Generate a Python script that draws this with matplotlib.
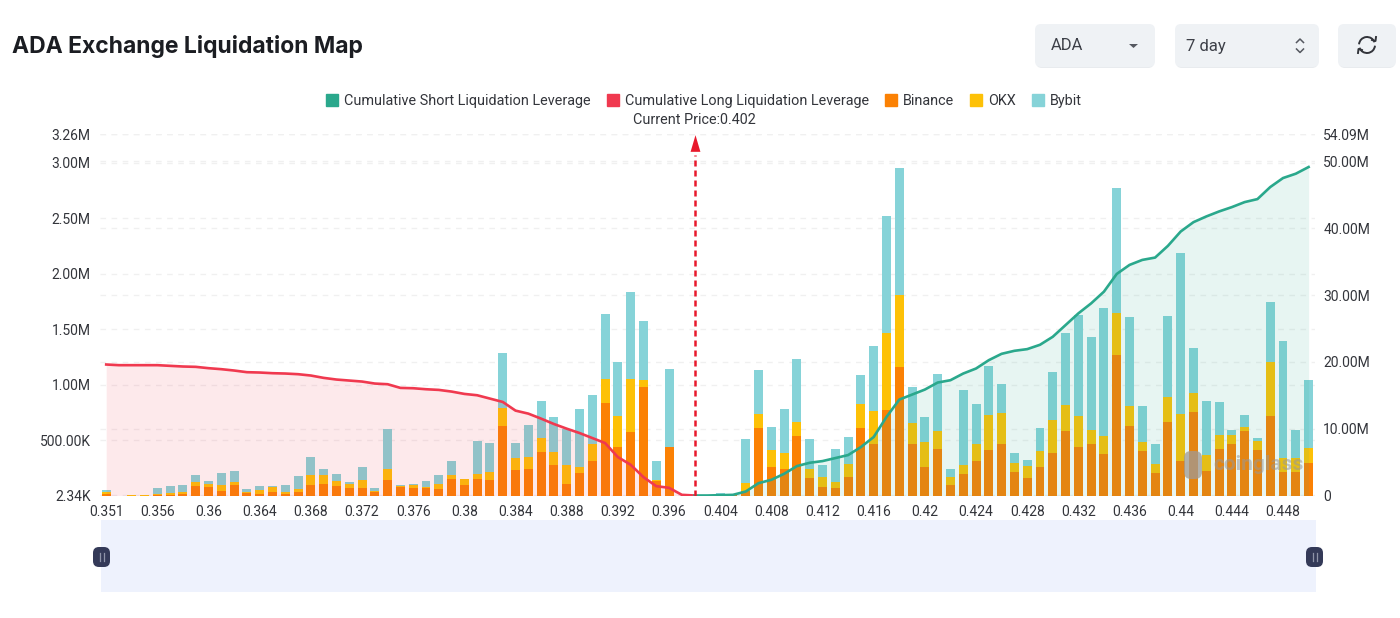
import matplotlib
matplotlib.use('Agg')
import matplotlib.pyplot as plt
from matplotlib.patches import FancyBboxPatch, Rectangle, Arc, Polygon

plt.rcParams['font.family'] = ['Roboto', 'DejaVu Sans']

# liquidation per price bucket, thousands
binance = [18, 0, 0, 0, 6, 9, 12, 84, 78, 45, 96, 24, 12, 36, 12, 36, 93, 102, 87, 69, 69, 33, 141,
           75, 72, 69, 63, 147, 96, 147, 138, 630, 231, 240, 396, 279, 102, 204, 309, 831, 441, 570, 978, 132, 441,
           0, 0, 0, 6, 3, 39, 612, 255, 237, 540, 156, 75, 66, 171, 612, 462, 768, 1158, 462, 255, 420, 93, 195, 315,
           411, 462, 213, 162, 255, 384, 579, 435, 465, 372, 1269, 630, 405, 207, 663, 309, 750, 219, 423, 462, 582,
           414, 720, 216, 213, 297]
okx = [15, 0, 5, 7, 12, 15, 18, 39, 24, 54, 27, 9, 36, 39, 18, 27, 96, 84, 48, 33, 75, 6, 99,
       15, 27, 9, 42, 42, 51, 45, 72, 159, 111, 105, 126, 111, 177, 57, 156, 222, 279, 483, 63, 12, 0,
       0, 0, 0, 6, 0, 72, 120, 153, 150, 123, 81, 90, 60, 114, 213, 303, 696, 651, 195, 225, 165, 72, 84, 150,
       315, 282, 78, 102, 144, 300, 237, 279, 126, 162, 378, 180, 75, 75, 228, 426, 177, 150, 126, 87, 33,
       81, 483, 120, 123, 129]
bybit = [15, 0, 0, 0, 54, 60, 63, 60, 27, 105, 102, 27, 36, 15, 69, 111, 156, 57, 63, 21, 111, 27, 357,
         3, 3, 51, 84, 126, 6, 303, 264, 495, 129, 291, 333, 315, 318, 516, 444, 582, 483, 786, 534, 171, 699,
         0, 0, 0, 12, 0, 402, 396, 213, 393, 564, 270, 108, 297, 243, 264, 579, 1059, 1140, 324, 231, 510, 75, 669,
         360, 438, 261, 90, 60, 207, 429, 651, 918, 837, 1161, 1122, 804, 330, 180, 732, 1452, 405, 486, 291, 39,
         111, 27, 543, 1056, 252, 618]

# cumulative leverage, millions
cum_long = [19.6, 19.5, 19.5, 19.5, 19.5, 19.4, 19.3, 19.25, 19.05, 18.9, 18.7, 18.45, 18.4, 18.3, 18.25, 18.15,
            17.95, 17.6, 17.35, 17.2, 17.05, 16.75, 16.65, 16.1, 16.05, 15.9, 15.8, 15.55, 15.2, 15.0, 14.5, 14.0,
            12.7, 12.25, 11.5, 10.7, 10.0, 9.35, 8.6, 7.85, 5.75, 4.6, 2.75, 1.4, 1.15, 0.1, 0]
cum_short = [0, 0, 0.05, 0.1, 0.6, 1.85, 2.35, 3.25, 4.4, 4.9, 5.15, 5.6, 6.05, 7.25, 8.75, 11.75, 14.35, 15.1,
             15.85, 16.9, 17.25, 18.25, 19.0, 20.25, 21.2, 21.65, 21.9, 22.55, 23.75, 25.5, 27.25, 28.75, 30.5,
             33.15, 34.5, 35.25, 35.6, 37.35, 39.5, 40.9, 41.75, 42.5, 43.15, 43.9, 44.35, 46.15, 47.5, 48.15, 49.15]

price_labels = ['0.351', '0.356', '0.36', '0.364', '0.368', '0.372', '0.376', '0.38', '0.384', '0.388', '0.392',
                '0.396', '0.404', '0.408', '0.412', '0.416', '0.42', '0.424', '0.428', '0.432', '0.436', '0.44',
                '0.444', '0.448']
left_ticks = [0.00234, 0.5, 1.0, 1.5, 2.0, 2.5, 3.0, 3.26]
left_labels = ['2.34K', '500.00K', '1.00M', '1.50M', '2.00M', '2.50M', '3.00M', '3.26M']
right_ticks = [0, 10, 20, 30, 40, 50, 54.09]
right_labels = ['0', '10.00M', '20.00M', '30.00M', '40.00M', '50.00M', '54.09M']

W, H = 1400, 618
ORANGE, YELLOW, TEAL = '#fb8104', '#fdc107', '#86d3d8'
RED, GREEN = '#f0394f', '#2aa88c'
TXT = '#33353b'

fig = plt.figure(figsize=(W / 100, H / 100), dpi=100)
rect = [99.8 / W, 1 - 495.5 / H, 1215.2 / W, 361.5 / H]

# right axis sits lowest so its grid stays behind the bars
ax_r = fig.add_axes(rect, zorder=1)
ax = fig.add_axes(rect, zorder=2)
ax_l = fig.add_axes(rect, zorder=3)
ax.patch.set_visible(False)
ax_l.patch.set_visible(False)
ax_l.axis('off')

x = list(range(len(binance)))
b_m = [v / 1000 for v in binance]
o_m = [v / 1000 for v in okx]
y_m = [v / 1000 for v in bybit]
bot2 = [a + b for a, b in zip(b_m, o_m)]
ax.bar(x, b_m, width=0.7, color=ORANGE)
ax.bar(x, o_m, width=0.7, bottom=b_m, color=YELLOW)
ax.bar(x, y_m, width=0.7, bottom=bot2, color=TEAL)

for a in (ax, ax_r, ax_l):
    a.set_xlim(-0.5, len(x) - 0.5)
    for s in a.spines.values():
        s.set_visible(False)
ax.set_ylim(0, 3.26)
ax_r.set_ylim(0, 54.09)
ax_l.set_ylim(0, 54.09)

ax.set_yticks(left_ticks, left_labels, fontsize=10, color=TXT)
ax.set_xticks(x[::4], price_labels, fontsize=10, color=TXT)
ax.tick_params(axis='both', length=0)
ax.tick_params(axis='y', pad=6.5)
ax.tick_params(axis='x', pad=7)
ax.grid(axis='y', color='#f0f0f0', lw=1, ls=(0, (4, 4)))
ax.set_axisbelow(True)

ax_r.yaxis.tick_right()
ax_r.set_yticks(right_ticks, right_labels, fontsize=10, color=TXT)
ax_r.set_xticks([])
ax_r.tick_params(axis='y', length=0, pad=6)
ax_r.grid(axis='y', color='#f0f0f0', lw=1, ls=(0, (4, 4)))

x_long = x[:len(cum_long)]
x_short = x[len(x) - len(cum_short):]
ax_l.fill_between(x_long, cum_long, 0, color=RED, alpha=0.11, lw=0)
ax_l.fill_between(x_short, cum_short, 0, color=GREEN, alpha=0.11, lw=0)
ax_l.plot(x_long, cum_long, color=RED, lw=1.9, solid_joinstyle='round')
ax_l.plot(x_short, cum_short, color=GREEN, lw=1.9, solid_joinstyle='round')

# current price marker
ax_l.plot([46, 46], [0, 51], color='#e8192c', lw=1.8, ls=(0, (2.4, 1.6)))
ax_l.plot([46], [52.7], marker=[(-0.59, -1), (0.59, -1), (0, 1)], color='#e8192c', ms=12, mew=0, clip_on=False)
ax_l.text(46, 56.2, 'Current Price:0.402', ha='center', va='center', fontsize=10.4, color=TXT, clip_on=False)

handles = [Rectangle((0, 0), 1, 1, color=c) for c in (GREEN, RED, ORANGE, YELLOW, TEAL)]
names = ['Cumulative Short Liquidation Leverage', 'Cumulative Long Liquidation Leverage', 'Binance', 'OKX', 'Bybit']
fig.legend(handles, names, loc='center', bbox_to_anchor=(704 / W, 1 - 101 / H), ncol=5, frameon=False,
           fontsize=10.4, labelcolor=TXT, handlelength=0.83, handleheight=0.83, handletextpad=0.43,
           columnspacing=1.1, borderpad=0, borderaxespad=0)

# page furniture in pixel coordinates
ui = fig.add_axes([0, 0, 1, 1], zorder=4)
ui.set_xlim(0, W)
ui.set_ylim(H, 0)
ui.axis('off')

ui.text(12, 47, 'ADA Exchange Liquidation Map', fontsize=16.5, fontweight='bold', family='Inter', color='#1b1d22',
        va='center')

for bx, bw in [(1035, 120), (1175, 144), (1338, 58)]:
    ui.add_patch(FancyBboxPatch((bx + 1, 26), bw - 2, 42, boxstyle='round,pad=0,rounding_size=6', fc='#e8ebee', ec='none'))
    ui.add_patch(FancyBboxPatch((bx, 24), bw, 43, boxstyle='round,pad=0,rounding_size=6', fc='#eff2f5', ec='none'))
ui.text(1051, 45, 'ADA', fontsize=12, color='#3d4048', va='center')
ui.text(1186, 46, '7 day', fontsize=12, color='#3d4048', va='center')
ui.add_patch(Polygon([[1129, 44], [1138, 44], [1133.5, 48]], fc='#555860', ec='none'))
ui.plot([1296.5, 1300, 1303.5], [42.5, 39, 42.5], color='#555860', lw=1.1)
ui.plot([1296.5, 1300, 1303.5], [49, 52.5, 49], color='#555860', lw=1.1)
ui.add_patch(Arc((1367, 45), 16, 16, theta1=185, theta2=340, color='#33353b', lw=1.4))
ui.add_patch(Arc((1367, 45), 16, 16, theta1=5, theta2=160, color='#33353b', lw=1.4))
ui.plot([1372, 1375.5, 1376], [40, 41, 37], color='#33353b', lw=1.4)
ui.plot([1358, 1358.5, 1362], [53, 49, 50], color='#33353b', lw=1.4)

# range slider
ui.add_patch(Rectangle((100.5, 520), 1215.5, 72, fc='#eef2fd', ec='none'))
for hx in (101.5, 1314.5):
    ui.add_patch(FancyBboxPatch((hx - 8.5, 547), 17, 20, boxstyle='round,pad=0,rounding_size=6', fc='#343a58', ec='none'))
    ui.plot([hx - 2, hx - 2], [553, 561], color='#8f94a8', lw=0.9)
    ui.plot([hx + 2, hx + 2], [553, 561], color='#8f94a8', lw=0.9)

# watermark
ui.add_patch(FancyBboxPatch((1184, 451), 18, 28, boxstyle='round,pad=0,rounding_size=7', fc='#a09a94', ec='none', alpha=0.75))
ui.text(1213, 464, 'coinglass', fontsize=15, fontweight='bold', color='#999999', alpha=0.55, va='center')

fig.savefig('out.png', dpi=100)
